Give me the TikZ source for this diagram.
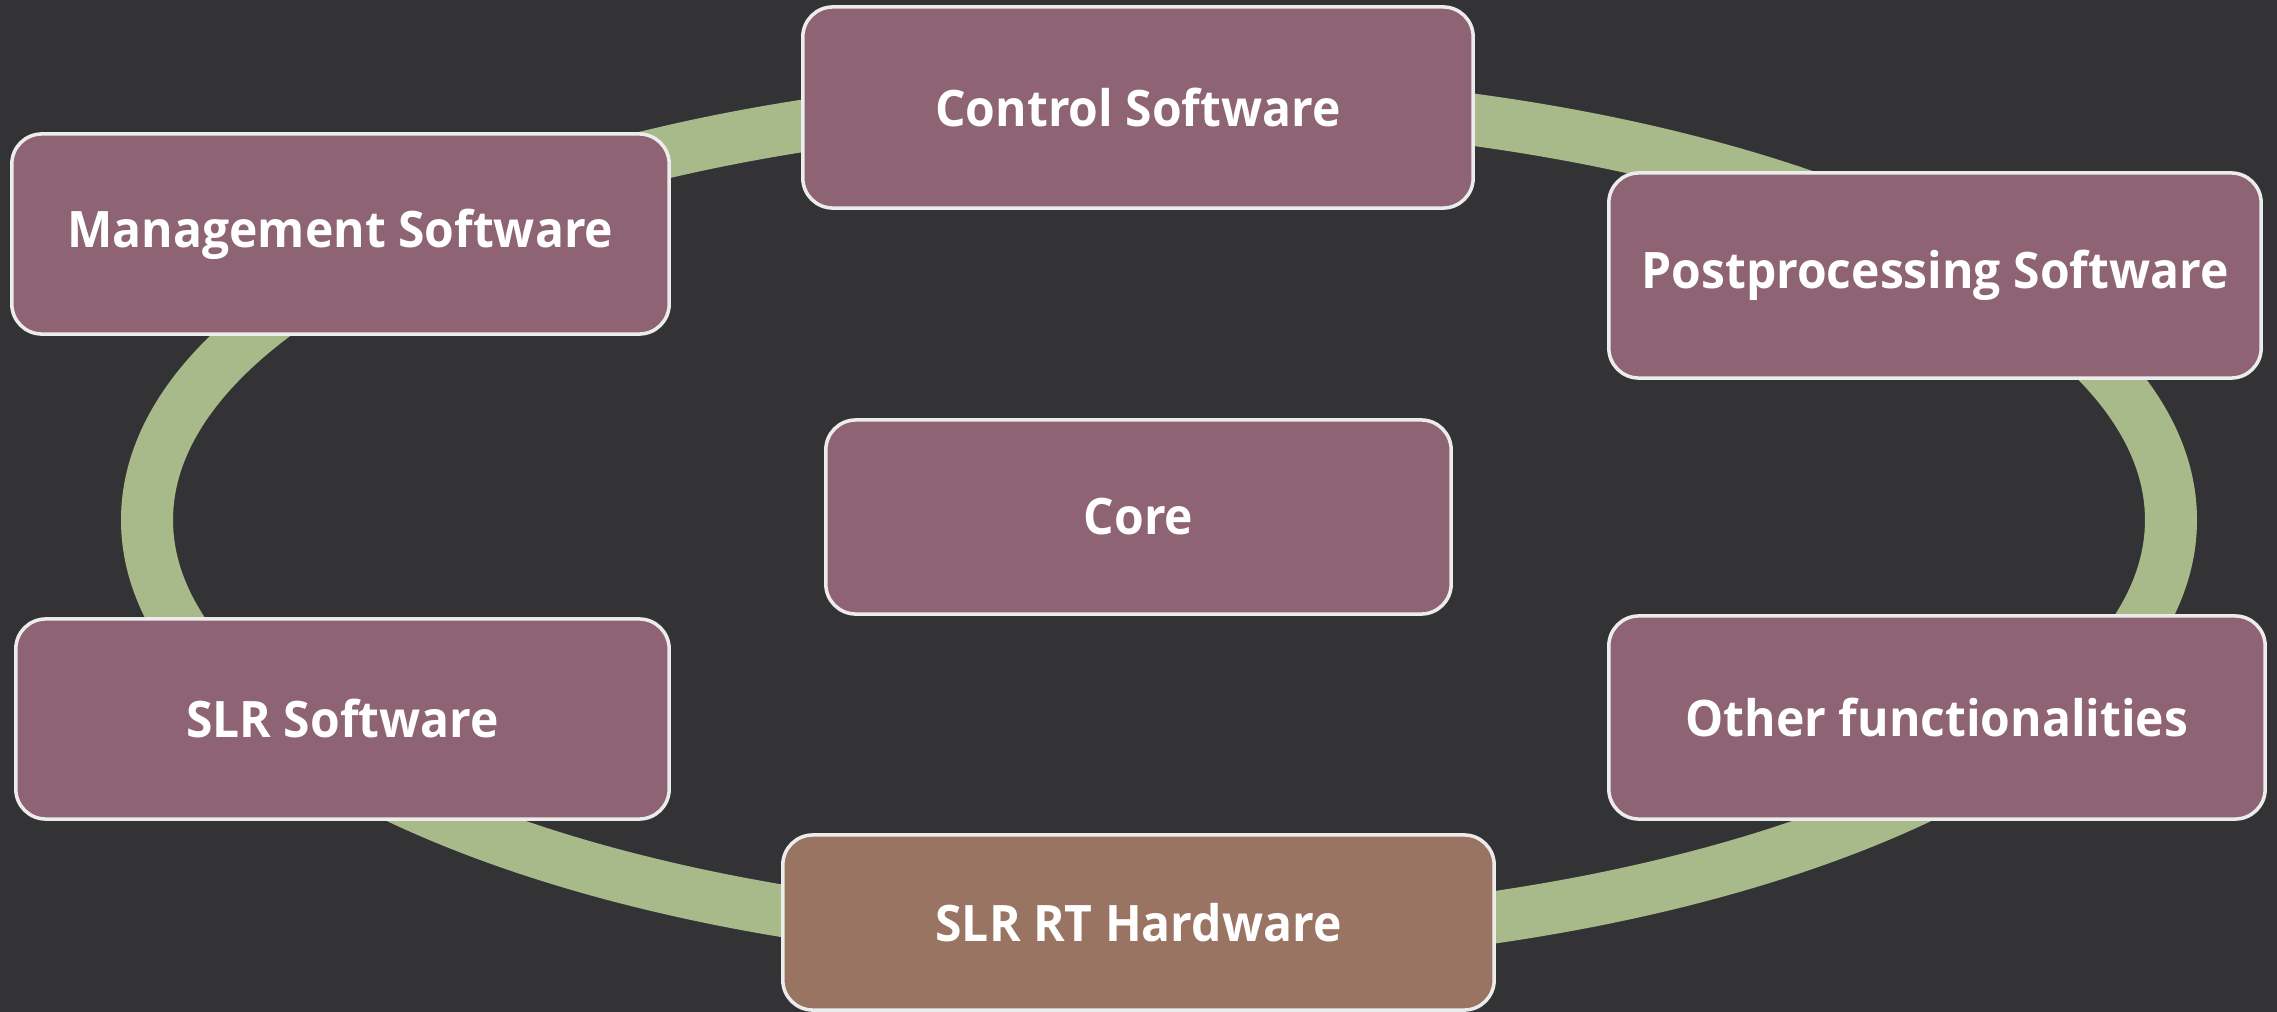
\documentclass[tikz,border=0pt]{standalone}
\usepackage{fontspec}
\newfontfamily\boxfont[FakeStretch=0.955]{Open Sans}
\definecolor{bg}{HTML}{333335}
\definecolor{mauve}{HTML}{8E6373}
\definecolor{clay}{HTML}{9A7462}
\definecolor{sage}{HTML}{A8B98A}
\definecolor{edge}{HTML}{ECECEC}
\begin{document}
\begin{tikzpicture}[x=0.01cm,y=-0.01cm,
  box/.style={draw=edge, line width=1pt, rounded corners=0.3cm, fill=mauve,
    text=white, inner sep=0pt,
    font=\boxfont\bfseries\fontsize{14.3pt}{17pt}\selectfont},
  ring/.style={draw=sage, line width=0.52cm}]
  % background and fixed frame
  \fill[bg] (0,0) rectangle (2277,1012);
  \useasboundingbox (0,0) rectangle (2277,1012);
  % the ring linking the modules
  \draw[ring] (1159,520) ellipse [x radius=1012, y radius=421];
  % modules
  \node[box, minimum width=6.7cm, minimum height=2.01cm] (ctrl) at (1138,107.5) {Control Software};
  \node[box, minimum width=6.57cm, minimum height=2.0cm] (mgmt) at (340.5,234) {Management Software};
  \node[box, minimum width=6.52cm, minimum height=2.05cm] (post) at (1935,275.5) {Postprocessing Software};
  \node[box, minimum width=6.25cm, minimum height=1.94cm] (core) at (1138.5,517) {Core};
  \node[box, minimum width=6.53cm, minimum height=2.0cm] (slrsw) at (342.5,719) {SLR Software};
  \node[box, minimum width=6.56cm, minimum height=2.03cm] (other) at (1937,717.5) {Other functionalities};
  \node[box, fill=clay, minimum width=7.11cm, minimum height=1.75cm] (hw) at (1138.5,922.5) {SLR RT Hardware};
\end{tikzpicture}
\end{document}
